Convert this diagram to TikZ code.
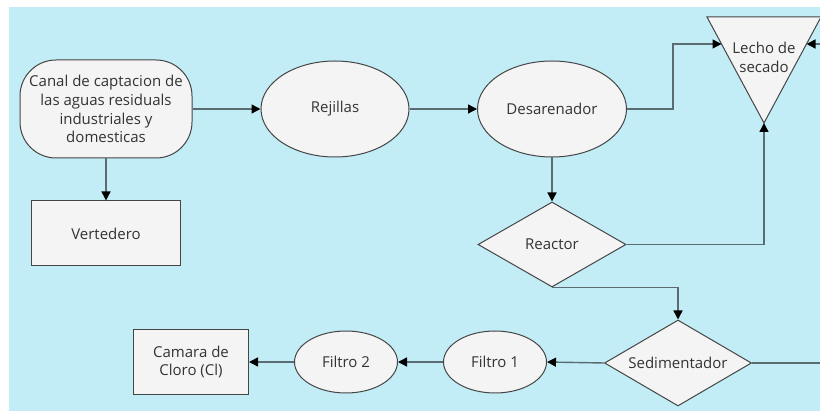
\documentclass[tikz,border=0pt]{standalone}
\usepackage{fontspec}
\setmainfont{Open Sans}
\usetikzlibrary{shapes.geometric,arrows.meta}
\definecolor{bg}{HTML}{C2EDF6}
\definecolor{nodefill}{HTML}{F4F4F4}
\definecolor{edgecol}{HTML}{454545}
\definecolor{linecol}{HTML}{5A6C71}
\definecolor{txt}{HTML}{333333}
\begin{document}
\begin{tikzpicture}[x=1pt,y=-1pt,
  box/.style={draw=edgecol, fill=nodefill, line width=1pt, text=txt,
    font=\fontsize{15}{18.8}\selectfont, align=center, inner sep=0pt},
  conn/.style={draw=linecol, line width=1.4pt,
    -{Triangle[length=9pt,width=9pt,fill=black,color=black]}},
  plain/.style={draw=linecol, line width=1.4pt}]
\useasboundingbox (0,0) rectangle (820,411);
\clip (0,0) rectangle (820,411);
\fill[bg] (9,7) rectangle (830,420);

% nodes
\node[box, rounded corners=36pt, minimum width=172pt, minimum height=98pt] (canal) at (106,109)
  {Canal de captacion de\\las aguas residuals\\industriales y\\domesticas};
\node[box, ellipse, minimum width=148pt, minimum height=96pt] (rej) at (335,109) {Rejillas};
\node[box, ellipse, minimum width=149pt, minimum height=96pt] (des) at (552,109) {Desarenador};
\node[box, diamond, aspect=1.74, minimum width=148pt, minimum height=85pt] (reac) at (552,244.5) {Reactor};
\node[box, diamond, aspect=1.71, minimum width=147pt, minimum height=86pt] (sed) at (678,363) {Sedimentador};
\node[box, ellipse, minimum width=103pt, minimum height=62pt] (f1) at (495,362) {Filtro 1};
\node[box, ellipse, minimum width=103pt, minimum height=62pt] (f2) at (346,362) {Filtro 2};
\node[box, rectangle, minimum width=115pt, minimum height=65pt] (cam) at (191,362) {Camara de\\Cloro (Cl)};
\node[box, rectangle, minimum width=149pt, minimum height=65pt] (vert) at (106,233.5) {Vertedero};

% triangle (Lecho de secado)
\coordinate (tTL) at (707,17);
\coordinate (tTR) at (821,17);
\coordinate (tB) at (764,123);
\filldraw[draw=edgecol, fill=nodefill, line width=1pt] (tTL) -- (tTR) -- (tB) -- cycle;
\node[text=txt, font=\fontsize{15}{18.8}\selectfont, align=center, inner sep=0pt] (lecho) at (764,57) {Lecho de\\secado};
\coordinate (lechoL) at (721.5,44);
\coordinate (lechoR) at (806.5,44);

% connectors
\coordinate (bend1) at (673,109);
\coordinate (offR) at (845,363);
\draw[conn] (canal) -- (rej);
\draw[conn] (rej) -- (des);
\draw[conn] (des.east) -- (bend1) |- (lechoL);
\draw[conn] (canal.south) -- (vert.north);
\draw[conn] (des.south) -- (reac.north);
\draw[conn] (reac.east) -| (tB);
\draw[conn] (reac.south) -| (sed.north);
\draw[conn] (sed.west) -- (f1.east);
\draw[conn] (f1.west) -- (f2.east);
\draw[conn] (f2.west) -- (cam.east);
\draw[conn] (sed.east) -- (offR) |- (lechoR);
\end{tikzpicture}
\end{document}
